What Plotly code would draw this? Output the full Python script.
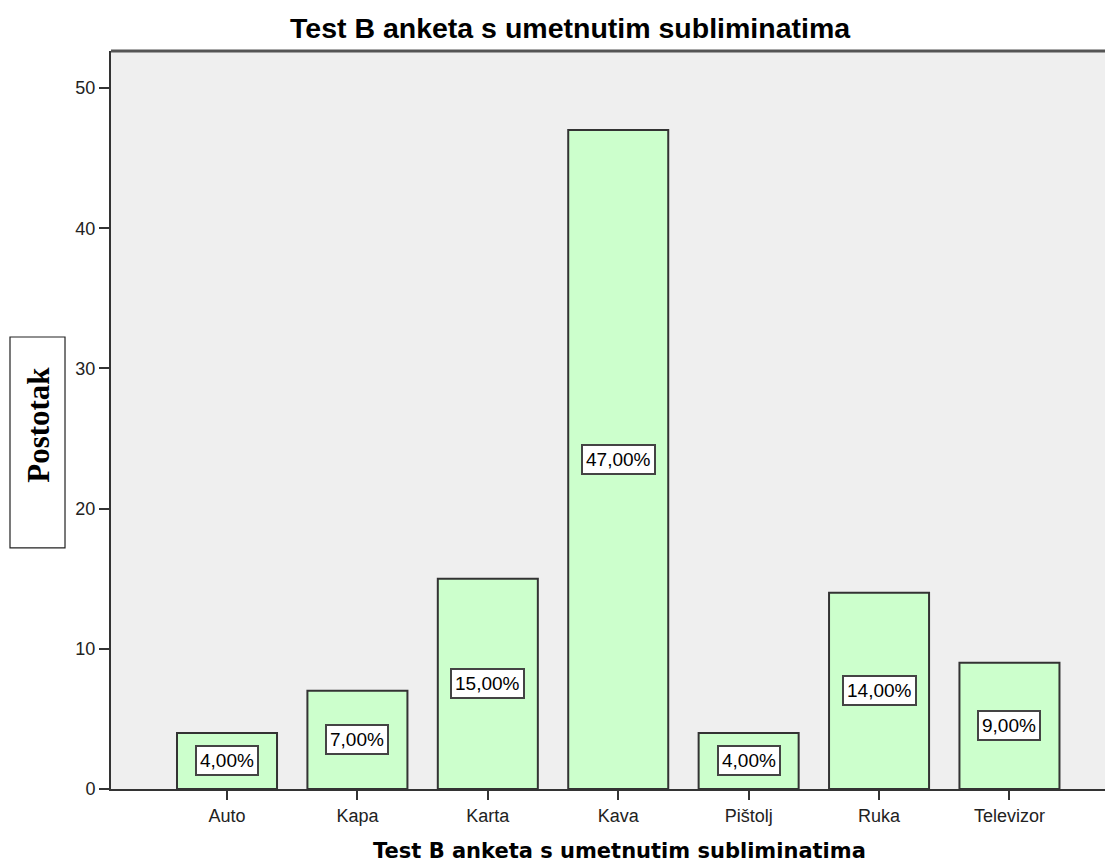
import plotly.graph_objects as go

# Kategorije i postoci (Test B anketa)
kategorije = ["Auto", "Kapa", "Karta", "Kava", "Pištolj", "Ruka", "Televizor"]
postotci = [4, 7, 15, 47, 4, 14, 9]
oznake = ["4,00%", "7,00%", "15,00%", "47,00%", "4,00%", "14,00%", "9,00%"]
y_tickovi = [0, 10, 20, 30, 40, 50]

naslov = "Test B anketa s umetnutim subliminatima"
SANS = "Arial, Liberation Sans, sans-serif"

fig = go.Figure()
fig.add_trace(go.Bar(
    x=kategorije, y=postotci, width=0.767,
    marker=dict(color="#ccffcc", line=dict(color="#333333", width=2)),
    hoverinfo="skip",
))

# oznake u sredini stupaca, u bijelim okvirima
for kat, vrij, txt in zip(kategorije, postotci, oznake):
    fig.add_annotation(
        x=kat, y=vrij / 2, text=txt, showarrow=False,
        font=dict(family=SANS, size=19, color="black"),
        bgcolor="white", bordercolor="#444444", borderwidth=2, borderpad=3,
    )

# naslov y-osi u okviru
fig.add_shape(type="rect", xref="paper", yref="paper",
              x0=-0.1008, x1=-0.0459, y0=0.3266, y1=0.6125,
              fillcolor="white", line=dict(color="#222222", width=1.2))
fig.add_annotation(
    xref="paper", yref="paper", x=-0.0725, y=0.494, xanchor="center", yanchor="middle",
    text="<b>Postotak</b>", textangle=-90, showarrow=False,
    font=dict(family="Liberation Serif, Times New Roman, serif", size=31, color="black"),
)

# naslov grafikona
fig.add_annotation(
    xref="paper", yref="paper", x=0.459, y=1.031, xanchor="center", yanchor="middle",
    text="<b>" + naslov + "</b>", showarrow=False,
    font=dict(family=SANS, size=28.5, color="black"),
)

# naslov x-osi
fig.add_annotation(
    xref="paper", yref="paper", x=0.507, y=-0.0845, xanchor="center", yanchor="middle",
    text="<b>" + naslov + "</b>", showarrow=False,
    font=dict(family="DejaVu Sans", size=21, color="black"),
)

fig.update_layout(
    width=1105, height=859,
    margin=dict(l=103, r=0, t=43, b=78),
    paper_bgcolor="white", plot_bgcolor="#efefef",
    showlegend=False,
    xaxis=dict(
        range=[-0.8896, 6.794], showgrid=False, zeroline=False,
        ticks="outside", ticklen=9, tickwidth=2, tickcolor="#333333",
        showline=True, linecolor="#333333", linewidth=2,
        tickfont=dict(family=SANS, size=18, color="#222222"),
    ),
    yaxis=dict(
        range=[0, 52.64], tickvals=y_tickovi, showgrid=False, zeroline=False,
        ticks="outside", ticklen=10, tickwidth=2, tickcolor="#333333",
        showline=True, linecolor="#333333", linewidth=2,
        tickfont=dict(family=SANS, size=18, color="#222222"),
    ),
)

# gornji rub područja crtanja
fig.add_shape(type="line", xref="paper", yref="paper", x0=0, x1=1, y0=1, y1=1,
              line=dict(color="#555555", width=3))

fig.write_html("out.html")
